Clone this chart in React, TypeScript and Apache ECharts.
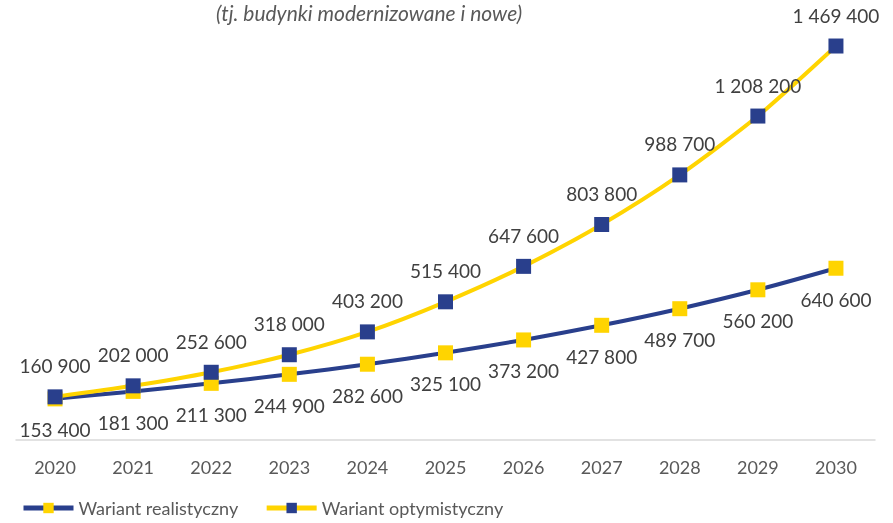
import React, { useEffect, useRef } from "react";
import * as echarts from "echarts";

const years = ["2020", "2021", "2022", "2023", "2024", "2025", "2026", "2027", "2028", "2029", "2030"];
const realistic = [153400, 181300, 211300, 244900, 282600, 325100, 373200, 427800, 489700, 560200, 640600];
const optimistic = [160900, 202000, 252600, 318000, 403200, 515400, 647600, 803800, 988700, 1208200, 1469400];
const seriesNames = ["Wariant realistyczny", "Wariant optymistyczny"];
const subtitle = "(tj. budynki modernizowane i nowe)";

const BLUE = "#293F8C";
const YELLOW = "#FFD400";
const FONT = "Lato, 'Open Sans', sans-serif";

const fmt = (v: number) => String(v).replace(/\B(?=(\d{3})+(?!\d))/g, " ");

export default function App() {
  const ref = useRef<HTMLDivElement>(null);
  useEffect(() => {
    if (!ref.current) return;
    const chart = echarts.init(ref.current, undefined, { renderer: "svg" });
    chart.setOption({
      animation: false,
      textStyle: { fontFamily: FONT },
      graphic: [
        {
          type: "text",
          left: 216,
          top: 2,
          style: {
            text: subtitle,
            font: `italic 21px ${FONT}`,
            fill: "#595959",
          },
        },
      ],
      grid: { left: 16, right: 18, top: 11, bottom: 83, containLabel: false },
      legend: {
        left: 16,
        bottom: 1,
        itemWidth: 50,
        itemHeight: 13,
        itemGap: 26,
        lineStyle: { width: 5 },
        textStyle: { fontSize: 18, color: "#595959", fontFamily: FONT },
        data: seriesNames,
      },
      xAxis: {
        type: "category",
        data: years,
        boundaryGap: true,
        axisLine: { lineStyle: { color: "#D9D9D9", width: 1.5 } },
        axisTick: { show: false },
        axisLabel: { fontSize: 18, color: "#595959", margin: 18, fontFamily: FONT },
      },
      yAxis: {
        type: "value",
        min: 0,
        max: 1600000,
        show: false,
        splitLine: { show: false },
      },
      series: [
        {
          name: seriesNames[0],
          type: "line",
          data: realistic,
          smooth: 0.25,
          symbol: "rect",
          symbolSize: 15,
          lineStyle: { color: BLUE, width: 4 },
          itemStyle: { color: YELLOW },
          label: {
            show: true,
            position: "bottom",
            distance: 14,
            fontSize: 19,
            color: "#404040",
            fontFamily: FONT,
            formatter: (p: any) => fmt(p.value),
          },
        },
        {
          name: seriesNames[1],
          type: "line",
          data: optimistic,
          smooth: 0.25,
          symbol: "rect",
          symbolSize: 15,
          lineStyle: { color: YELLOW, width: 4 },
          itemStyle: { color: BLUE },
          label: {
            show: true,
            position: "top",
            distance: 14,
            fontSize: 19,
            color: "#404040",
            fontFamily: FONT,
            formatter: (p: any) => fmt(p.value),
          },
        },
      ],
    });
    return () => chart.dispose();
  }, []);
  return <div ref={ref} style={{ width: 893, height: 523, position: "fixed", left: 0, top: 0 }} />;
}
